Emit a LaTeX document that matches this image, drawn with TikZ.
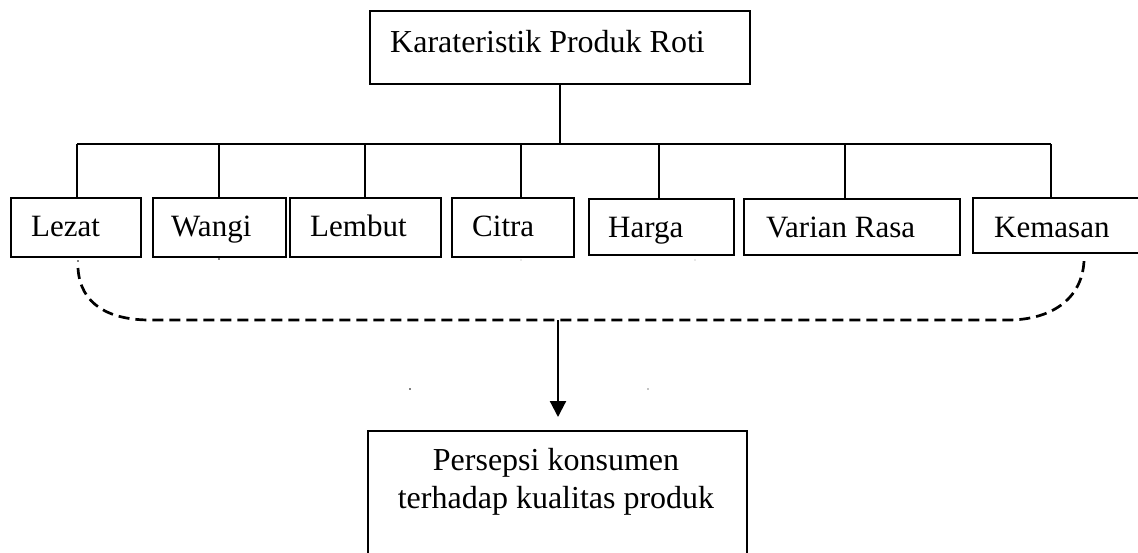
\documentclass[tikz,border=0pt]{standalone}
\usepackage{fontspec}
\setmainfont{Liberation Serif}
\usetikzlibrary{arrows.meta}
\tikzset{
  box/.style={draw,line width=1.6pt,rectangle,inner sep=0pt,anchor=north west},
  lbl/.style={anchor=base west,inner sep=0pt,font=\fontsize{31}{37}\selectfont},
  biglbl/.style={inner sep=0pt,font=\fontsize{32}{38}\selectfont},
  link/.style={line width=1.6pt},
  flow/.style={dash pattern=on 11pt off 6pt,line width=2.7pt},
  pointer/.style={line width=2.2pt,-{Triangle[length=16pt,width=16pt]}},
  speck/.style={fill=black}
}
\begin{document}
\begin{tikzpicture}[x=1pt,y=-1pt]
\useasboundingbox (0,0) rectangle (1138,552);
\clip (0,0) rectangle (1138,552);
\fill[white] (0,0) rectangle (1138,552);

% top box
\node[box,minimum width=380pt,minimum height=73pt] (top) at (369,10) {};
\node[biglbl,anchor=base west] (toptxt) at (390,52) {Karateristik Produk Roti};

% row of boxes
\node[box,minimum width=130pt,minimum height=59pt] (lezat)  at (10,197) {};
\node[box,minimum width=133pt,minimum height=59pt] (wangi)  at (152,197) {};
\node[box,minimum width=151pt,minimum height=59pt] (lembut) at (289,197) {};
\node[box,minimum width=122pt,minimum height=59pt] (citra)  at (451,197) {};
\node[box,minimum width=145pt,minimum height=56pt] (harga)  at (588,198) {};
\node[box,minimum width=216pt,minimum height=56pt] (varian) at (743,198) {};
\node[box,minimum width=200pt,minimum height=55pt] (kemasan) at (972,197) {};

\node[lbl] (tlezat)   at (31,236)  {Lezat};
\node[lbl] (twangi)   at (171,236) {Wangi};
\node[lbl] (tlembut)  at (310,236) {Lembut};
\node[lbl] (tcitra)   at (472,236) {Citra};
\node[lbl] (tharga)   at (608,237) {Harga};
\node[lbl] (tvarian)  at (766,237) {Varian Rasa};
\node[lbl] (tkemasan) at (994,237) {Kemasan};

% tree connectors
\coordinate (busL) at (77,144);
\coordinate (busR) at (1051,144);
\coordinate (d2) at (219,144);
\coordinate (d3) at (365,144);
\coordinate (d4) at (521,144);
\coordinate (d5) at (659,144);
\coordinate (d6) at (845,144);
\draw[link] (top.south) -- (top.south |- busL);
\draw[link] (busL) -- (busR);
\draw[link] (busL) -- (busL |- lezat.north);
\draw[link] (d2) -- (d2 |- wangi.north);
\draw[link] (d3) -- (d3 |- lembut.north);
\draw[link] (d4) -- (d4 |- citra.north);
\draw[link] (d5) -- (d5 |- harga.north);
\draw[link] (d6) -- (d6 |- varian.north);
\draw[link] (busR) -- (busR |- kemasan.north);

% dashed brace
\coordinate (cL) at (78,268);
\coordinate (cR) at (1084,261);
\coordinate (mid) at (558,320);
\draw[flow] (cL) .. controls (80,305) and (110,320) .. (150,320)
  -- (1008,320) .. controls (1050,320) and (1082,300) .. (cR);

% bottom box
\node[box,minimum width=379pt,minimum height=140pt] (bottom) at (367,430) {};
\node[biglbl,anchor=base] (tb1) at (556,470) {Persepsi konsumen};
\node[biglbl,anchor=base] (tb2) at (556,508) {terhadap kualitas produk};

\draw[pointer,shorten >=13pt] (mid) -- (mid |- bottom.north);

% specks
\fill[speck] (78,261) circle (0.9pt);
\fill[speck] (219,259) circle (0.9pt);
\fill[black!40] (521,260) circle (0.7pt);
\fill[black!40] (695,260) circle (0.7pt);
\fill[speck] (410,389) circle (0.9pt);
\fill[speck] (648,389) circle (0.7pt);
\end{tikzpicture}
\end{document}
